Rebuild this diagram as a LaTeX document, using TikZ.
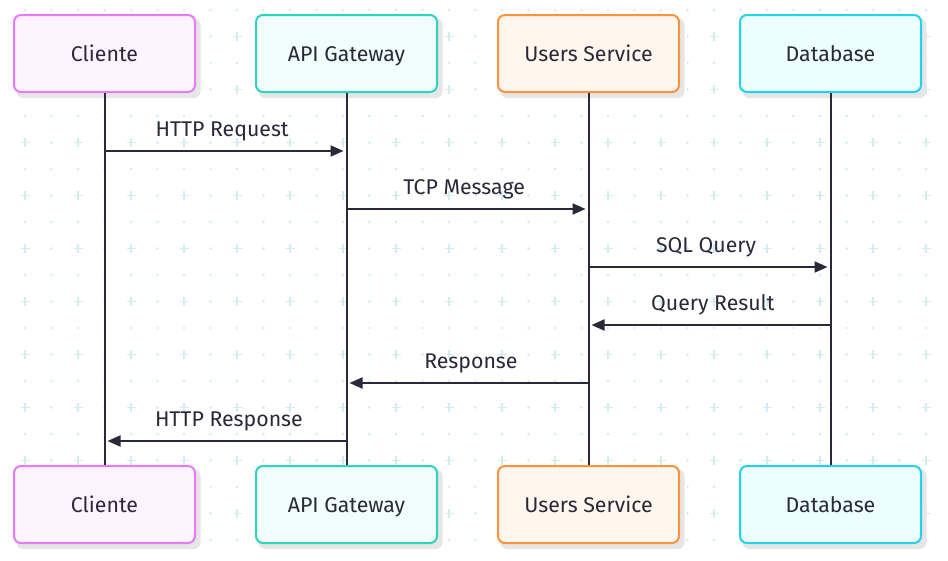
\documentclass[tikz,border=0pt]{standalone}
\usepackage{fontspec}
\setmainfont{Fira Sans}
\usetikzlibrary{arrows.meta}
\definecolor{gridc}{HTML}{D3ECF1}
\definecolor{ink}{HTML}{2A2839}
\definecolor{pinkB}{HTML}{E879F9}\definecolor{pinkF}{HTML}{FDF4FF}
\definecolor{tealB}{HTML}{2DD4BF}\definecolor{tealF}{HTML}{F0FDFA}
\definecolor{orB}{HTML}{FB923C}\definecolor{orF}{HTML}{FFF7ED}
\definecolor{cyB}{HTML}{22D3EE}\definecolor{cyF}{HTML}{ECFEFF}
\definecolor{shadowc}{HTML}{E6E6E6}
\tikzset{
  actor/.style={draw=#1B, fill=#1F, line width=2pt, rounded corners=7pt,
    minimum width=181pt, minimum height=77pt, inner sep=0pt,
    text height=16.6pt, text depth=0pt,
    font=\fontsize{21.3}{24}\selectfont, text=ink},
  lifeline/.style={draw=ink, line width=2pt},
  msg/.style={draw=ink, line width=2pt, -{Triangle[length=13pt,width=11pt]}, shorten >=3pt},
  lbl/.style={font=\fontsize{21.3}{24}\selectfont, text=ink, anchor=base, inner sep=0pt, yshift=14.5pt, pos=0.486},
}
\begin{document}
\begin{tikzpicture}[x=1pt,y=-1pt]
\useasboundingbox (0,0) rectangle (948,560);
\fill[white] (0,0) rectangle (948,560);
% background grid
\foreach \j in {0,...,36}{
  \foreach \k in {0,...,21}{
    \pgfmathsetmacro{\xx}{-1.5+26.5*\j}
    \pgfmathsetmacro{\yy}{10+26.5*\k}
    \pgfmathtruncatemacro{\isplus}{(mod(\j,2)==1) && (mod(\k,2)==1)}
    \ifnum\isplus=1
      \draw[gridc, line width=1.7pt] (\xx-4.5,\yy) -- (\xx+4.5,\yy) (\xx,\yy-4.5) -- (\xx,\yy+4.5);
    \else
      \fill[gridc] (\xx,\yy) circle (1.35);
    \fi
  }
}
% shadows
\foreach \cx in {104.5,346.5,588.5,830.5}{
  \fill[shadowc, rounded corners=7pt] (\cx-88,18) rectangle (\cx+96,98);
  \fill[shadowc, rounded corners=7pt] (\cx-88,469) rectangle (\cx+96,549);
}
% actors
\node[actor=pink] (c1) at (104.5,53.5) {Cliente};
\node[actor=teal] (g1) at (346.5,53.5) {API Gateway};
\node[actor=or]   (u1) at (588.5,53.5) {Users Service};
\node[actor=cy]   (d1) at (830.5,53.5) {Database};
\node[actor=pink] (c2) at (104.5,504.5) {Cliente};
\node[actor=teal] (g2) at (346.5,504.5) {API Gateway};
\node[actor=or]   (u2) at (588.5,504.5) {Users Service};
\node[actor=cy]   (d2) at (830.5,504.5) {Database};
% lifelines
\draw[lifeline] (c1) -- (c2);
\draw[lifeline] (g1) -- (g2);
\draw[lifeline] (u1) -- (u2);
\draw[lifeline] (d1) -- (d2);
% message anchor points
\foreach \n/\y in {1/151,2/209,3/267,4/325,5/383,6/441}{
  \coordinate (mc\n) at (104.5,\y);
  \coordinate (mg\n) at (346.5,\y);
  \coordinate (mu\n) at (588.5,\y);
  \coordinate (md\n) at (830.5,\y);
}
\draw[msg] (mc1) -- node[lbl] {HTTP Request} (mg1);
\draw[msg] (mg2) -- node[lbl] {TCP Message} (mu2);
\draw[msg] (mu3) -- node[lbl] {SQL Query} (md3);
\draw[msg] (md4) -- node[lbl] {Query Result} (mu4);
\draw[msg] (mu5) -- node[lbl] {Response} (mg5);
\draw[msg] (mg6) -- node[lbl] {HTTP Response} (mc6);
\end{tikzpicture}
\end{document}
